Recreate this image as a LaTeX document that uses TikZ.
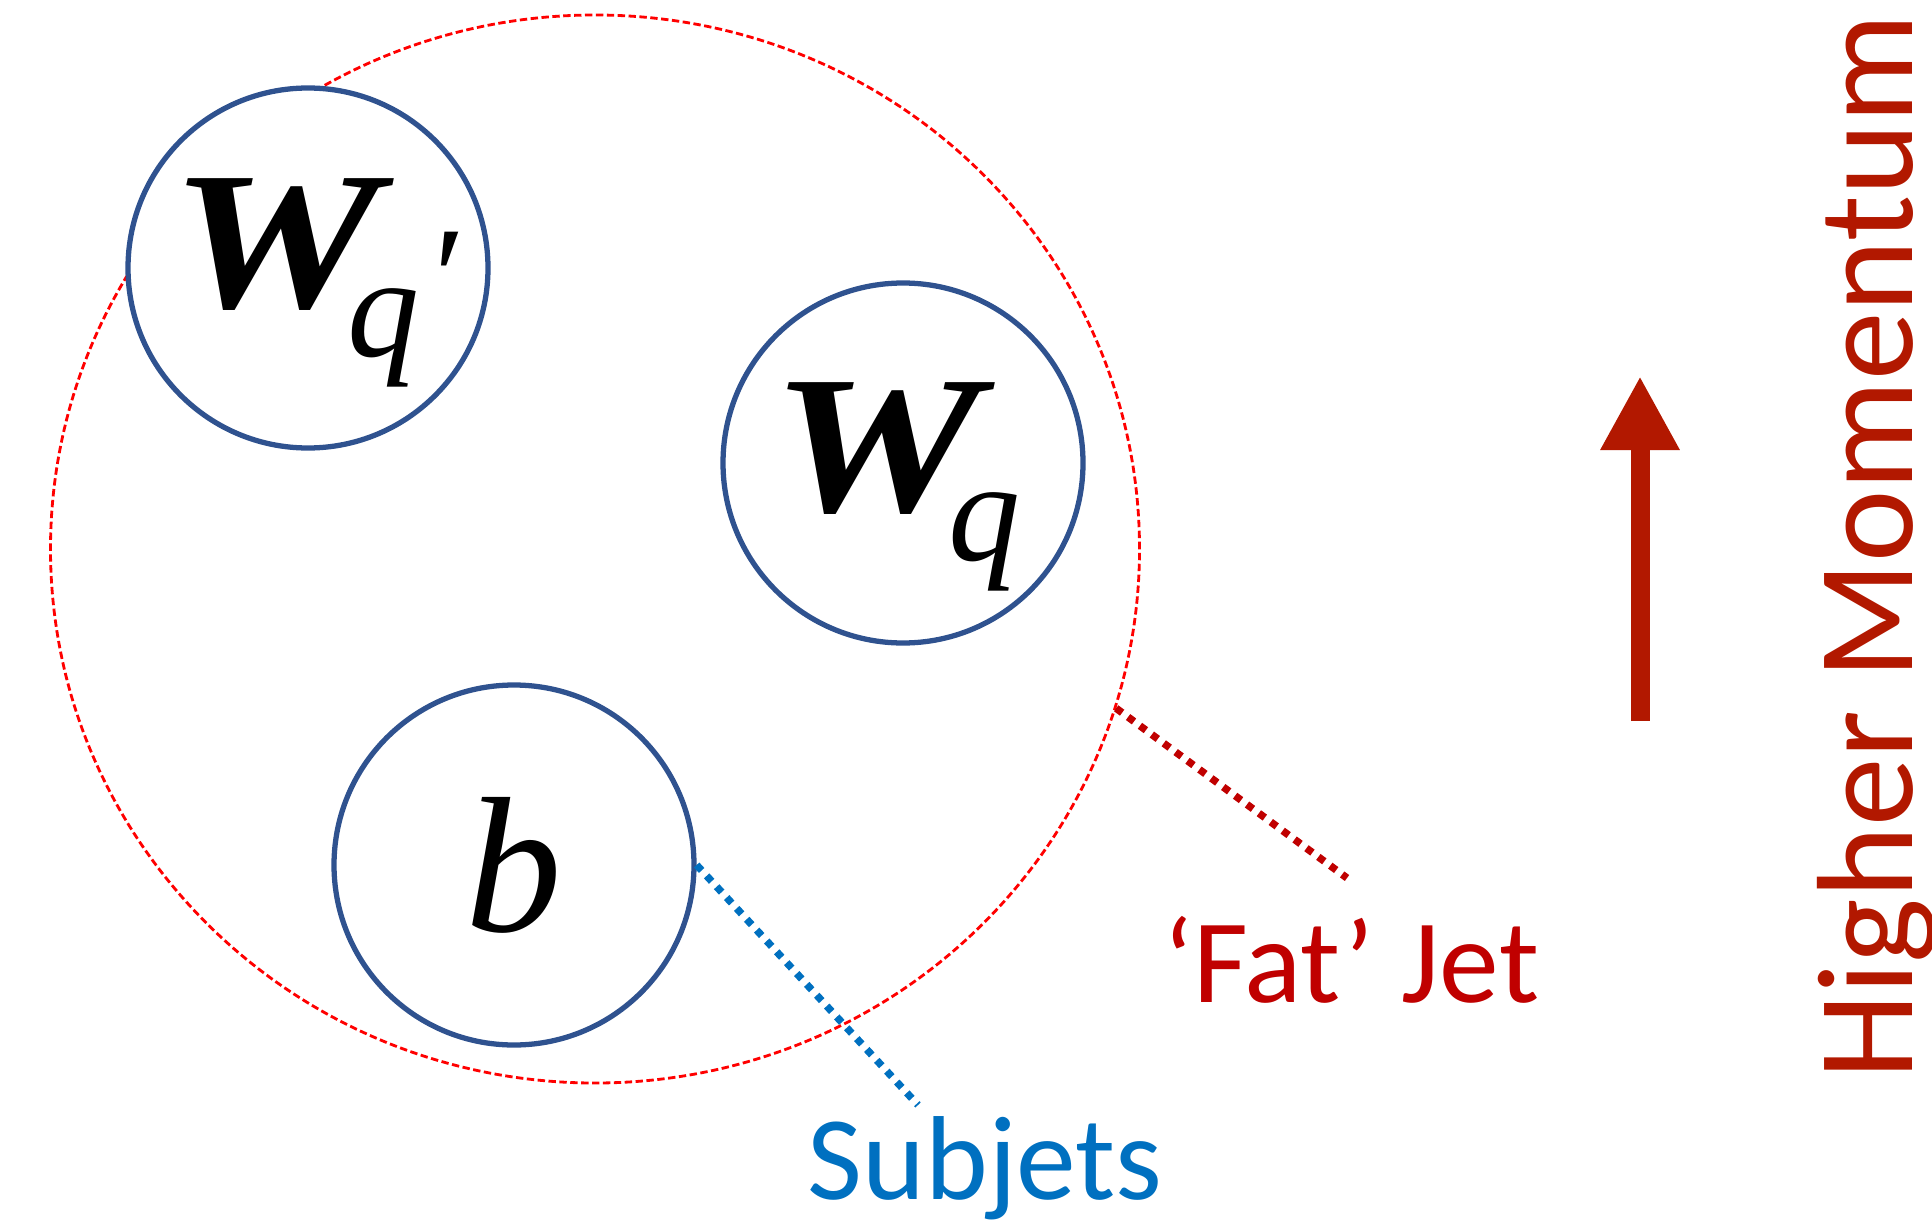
\documentclass[tikz,border=0pt]{standalone}
\usepackage{fontspec}
\setmainfont{Carlito}
\newfontfamily\tms{Liberation Serif}
\usetikzlibrary{positioning,calc}
\usetikzlibrary{arrows.meta,shapes.geometric}
\definecolor{JetRed}{RGB}{255,0,0}
\definecolor{FatRed}{RGB}{192,0,0}
\definecolor{SubBlue}{RGB}{0,112,192}
\definecolor{RingBlue}{RGB}{47,82,143}
\definecolor{MomRed}{RGB}{178,24,0}
\newcommand\WsubLabel[1]{\scalebox{1.2}[1]{\tms\bfseries\itshape W}\kern-0.33cm\raisebox{-0.49cm}{\fontsize{41}{41}\selectfont\tms\itshape #1}}
\tikzset{
  fat/.style={ellipse,draw=JetRed,line width=0.8pt,dash pattern=on 2.1pt off 1pt,
    minimum width=10.89cm,minimum height=10.68cm,inner sep=0pt},
  sub/.style={circle,draw=RingBlue,fill=white,line width=1.5pt,minimum size=3.6cm,inner sep=0pt},
  wlab/.style={anchor=base west,inner sep=0pt,font=\fontsize{56}{56}\selectfont},
  lead/.style={line width=2.1pt,dash pattern=on 2.1pt off 2.1pt},
  tag/.style={font=\fontsize{34}{40}\selectfont,anchor=base,inner sep=0pt},
}

\begin{document}
\begin{tikzpicture}
  \useasboundingbox (0,0) rectangle (19.32,12.23);
  \node[fat] (jet) at (5.95,6.74) {};
  \node[sub] (wqp) at (3.08,9.55) {};
  \node[sub] (wq) at (9.03,7.60) {};
  \node[sub] (bq) at (5.14,3.58) {\fontsize{55}{55}\selectfont\tms\itshape b};
  \node[wlab] (wqptxt) at ([shift={(-1.38,-0.40)}]wqp.center)
    {\WsubLabel{q\kern0.06cm\raisebox{0.3cm}{′}}};
  \node[wlab] (wqtxt) at ([shift={(-1.32,-0.48)}]wq.center) {\WsubLabel{q}};
  % labels
  \node[tag,text=SubBlue] (subtxt) at (9.85,0.24) {Subjets};
  \node[tag,text=FatRed] (fattxt) at (13.51,2.21) {‘Fat’ Jet};
  \coordinate (subend) at (9.18,1.18);
  \coordinate (fatend) at (13.47,3.45);
  \draw[lead,draw=SubBlue] (bq.east) -- (subend);
  \draw[lead,draw=FatRed] (jet.-17) -- (fatend);
  % momentum
  \coordinate (arrlow) at (16.40,5.02);
  \coordinate (arrtop) at (16.40,8.47);
  \draw[MomRed,line width=0.19cm,-{Triangle[width=0.74cm,length=0.74cm]}] (arrlow) -- (arrtop);
  \node[rotate=90,anchor=base,text=MomRed,font=\fontsize{39}{44}\selectfont,inner sep=0pt] (mom) at (19.12,6.76) {Higher Momentum};
\end{tikzpicture}
\end{document}
